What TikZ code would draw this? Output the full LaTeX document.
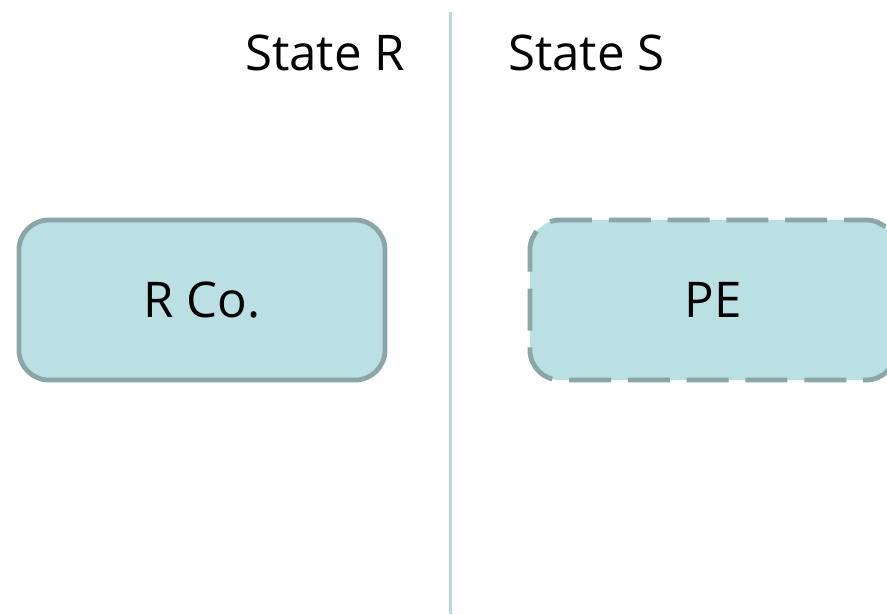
\documentclass[tikz,border=0pt]{standalone}
\usepackage{fontspec}
\setmainfont{Open Sans}
\usepackage{tikz}
\usetikzlibrary{positioning}

\definecolor{boxfill}{HTML}{BAE0E3}
\definecolor{boxline}{HTML}{8AA6A8}
\definecolor{divline}{HTML}{B6DADF}

\begin{document}
\begin{tikzpicture}[x=0.025cm,y=-0.025cm]
		\tikzstyle{every node}=[font=\fontsize{35}{42}\selectfont]
		\tikzstyle{statebox}=[draw=boxline,
								  fill=boxfill,
								  line width=0.12cm,
								  minimum width=9.15cm,
								  minimum height=4.0cm,
								  rounded corners=0.75cm,
								  inner sep=0pt,
								  align=center]
		\tikzstyle{newbox}=[statebox,dash pattern=on 1.05cm off 0.42cm,dash phase=0.5cm]
		\tikzstyle{divsty}=[draw=divline,line width=0.075cm]

\useasboundingbox (0,0) rectangle (887,614);

% headings
\node [anchor=base] at (325,70) (headR) {State R};
\node [anchor=base] at (586.5,70) (headS) {State S};

% divider
\coordinate (divtop) at (450,12);
\coordinate (divbot) at (450,614);
\path[divsty] (divtop) -- (divbot);

% boxes
\node [statebox] at (202,300) (rco) {R Co.};
\node [newbox] at (713,300) (pe) {PE};

\end{tikzpicture}
\end{document}
